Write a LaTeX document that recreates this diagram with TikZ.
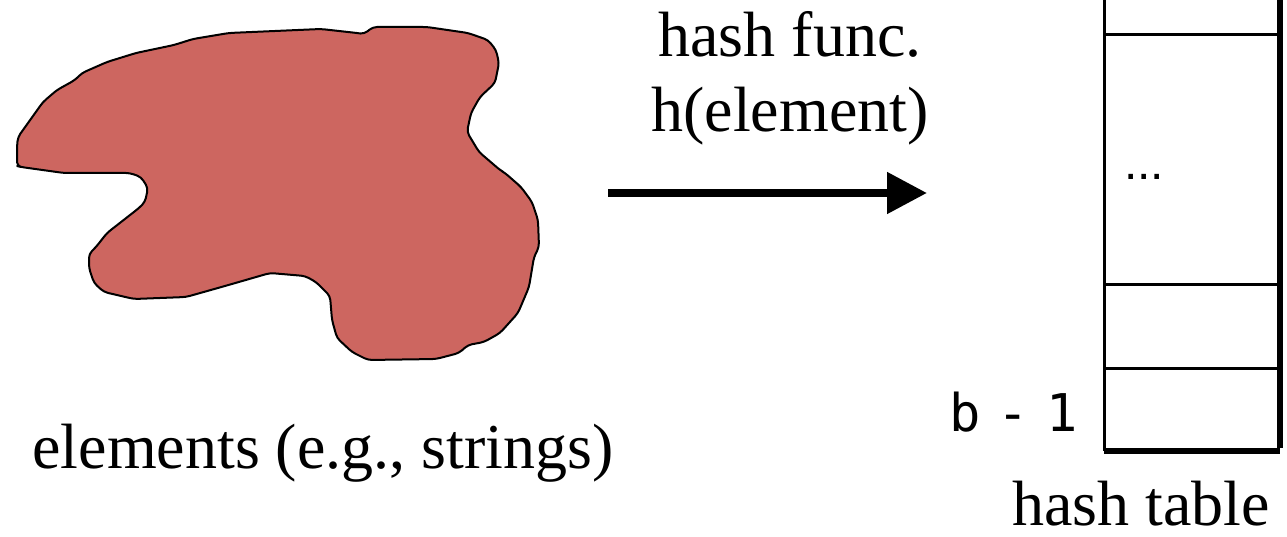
\documentclass[tikz,border=0pt]{standalone}
\usepackage{fontspec}
\setmainfont{Liberation Serif}
\newfontfamily\monofnt[WordSpace=0.55]{DejaVu Sans Mono}
\newfontfamily\sansfnt{Liberation Sans}
\usetikzlibrary{arrows.meta}
\definecolor{blobred}{RGB}{205,102,96}
\tikzset{
  lbl/.style={font=\fontsize{64}{72}\selectfont, inner sep=0pt, anchor=base},
  thinline/.style={line width=3pt},
  thickline/.style={line width=6pt},
  bigarrow/.style={line width=8pt, -{Triangle[length=40pt,width=40pt]}},
  blob/.style={fill=blobred, draw=black, line width=2pt, rounded corners=4pt, line join=round}
}
\begin{document}
\begin{tikzpicture}[x=1pt,y=-1pt]
\useasboundingbox (0,0) rectangle (1287,537);
% blob
\draw[blob] (17,146) -- (17,166) -- (21,167) -- (64,173) -- (130,173) -- (141,177) -- (148,188) -- (145,202) -- (139,208)
 -- (107,233) -- (96,247) -- (89,254) -- (89,268) -- (94,283) -- (104,292) -- (134,299) -- (186,297) -- (225,286)
 -- (270,273) -- (305,276) -- (316,282) -- (330,296) -- (332,320) -- (337,338) -- (352,352) -- (368,360) -- (436,359)
 -- (459,353) -- (468,345) -- (484,342) -- (500,333) -- (518,313) -- (529,287) -- (534,257) -- (539,247) -- (538,220)
 -- (532,202) -- (521,187) -- (505,173) -- (500,170) -- (479,152) -- (467,132) -- (471,113) -- (480,97) -- (495,83)
 -- (499,63) -- (496,50) -- (488,40) -- (468,33) -- (427,27) -- (373,27) -- (364,34) -- (357,33) -- (321,29)
 -- (229,33) -- (193,39) -- (174,45) -- (136,53) -- (107,62) -- (82,73) -- (75,80) -- (57,90) -- (43,102) -- (18,137) -- cycle;
\node[lbl] (elems) at (323,468) {elements (e.g., strings)};
% arrow
\coordinate (arrS) at (608,193);
\coordinate (arrE) at (927,193);
\draw[bigarrow] (arrS) -- (arrE);
\node[lbl] (hf1) at (790,57) {hash func.};
\node[lbl] (hf2) at (790,132) {h(element)};
% hash table
\coordinate (tl) at (1104,0);
\coordinate (tr) at (1280,0);
\coordinate (bl) at (1104,451);
\coordinate (br) at (1280,451);
\draw[thinline] (tl) -- (bl);
\draw[thinline] (1104,35) -- (1280,35);
\draw[thinline] (1104,284) -- (1280,284);
\draw[thinline] (1104,368) -- (1280,368);
\draw[thickline] (bl) -- (br);
\draw[thickline] (tr) -- ([yshift=3pt]br);
\node[font=\sansfnt\fontsize{48}{56}\selectfont, inner sep=0pt, anchor=base] (dots) at (1144,180) {...};
\node[font=\monofnt\fontsize{52}{60}\selectfont, inner sep=0pt, anchor=base east] (bm1) at (1078,431) {b - 1};
\node[lbl] (ht) at (1141,525) {hash table};
\end{tikzpicture}
\end{document}
